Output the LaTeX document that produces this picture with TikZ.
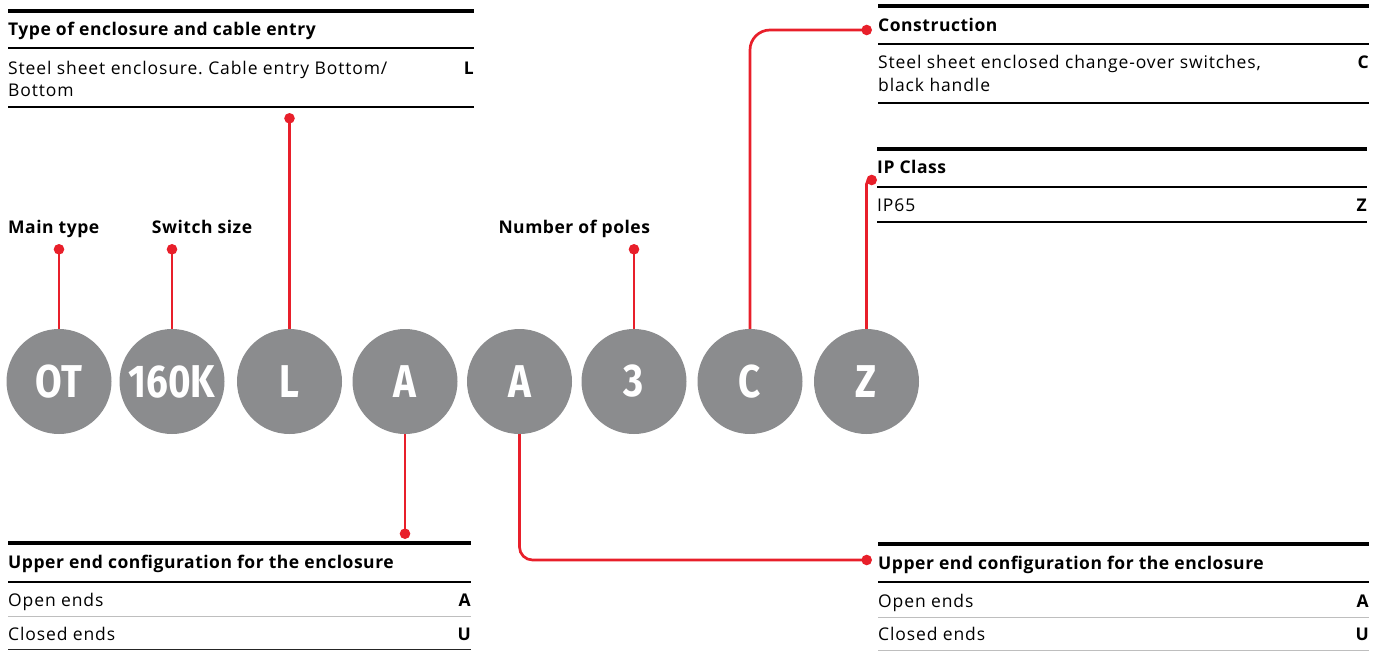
\documentclass[tikz,border=0pt]{standalone}
\usepackage{graphicx}
\usepackage{fontspec}
\setmainfont{Open Sans}[UprightFeatures={LetterSpace=5}, BoldFeatures={LetterSpace=3}]
\newfontfamily\circfont{Fira Sans}
\frenchspacing
\definecolor{abbred}{RGB}{232,31,42}
\definecolor{circgray}{RGB}{139,140,142}
\definecolor{rulegray}{RGB}{190,190,190}
\tikzset{
  thickrule/.style={line width=4.3pt, black},
  midrule/.style={line width=2.2pt, black},
  thinrule/.style={line width=1.3pt, rulegray},
  darkrule/.style={line width=1.3pt, black!85},
  redline/.style={abbred, line width=2.7pt},
  reddot/.style={circle, fill=abbred, inner sep=0pt, minimum size=10.6pt},
  codecirc/.style={circle, fill=circgray, minimum size=105pt, inner sep=0pt, text=white,
    font=\circfont\bfseries\fontsize{46}{46}\selectfont},
  body/.style={inner sep=0pt, anchor=base west, font=\fontsize{17.5}{21}\selectfont},
  code/.style={inner sep=0pt, anchor=base east, font=\bfseries\fontsize{17.5}{21}\selectfont},
  head/.style={inner sep=0pt, anchor=base west, font=\bfseries\fontsize{17.5}{21}\selectfont},
}
\newcommand{\cnd}[1]{\scalebox{0.84}[1]{#1}}
\begin{document}
\begin{tikzpicture}[x=1pt,y=-1pt]
\useasboundingbox (0,0) rectangle (1385,651);

% code circles
\node[codecirc] (c1) at (59,381.5) {\cnd{OT}};
\node[codecirc] (c2) at (172,381.5) {\cnd{160K}};
\node[codecirc] (c3) at (289.5,381.5) {\cnd{L}};
\node[codecirc] (c4) at (405,381.5) {\cnd{A}};
\node[codecirc] (c5) at (519.5,381.5) {\cnd{A}};
\node[codecirc] (c6) at (634,381.5) {\cnd{3}};
\node[codecirc] (c7) at (750,381.5) {\cnd{C}};
\node[codecirc] (c8) at (866.5,381.5) {\cnd{Z}};

% dots
\node[reddot] (d1) at (59,249.3) {};
\node[reddot] (d2) at (172,249.3) {};
\node[reddot] (d3) at (289.5,118.3) {};
\node[reddot] (d6) at (634,249.3) {};
\node[reddot] (d7) at (866.7,30) {};
\node[reddot] (d8) at (871.7,180) {};
\node[reddot] (d4) at (405,533.7) {};
\node[reddot] (d5) at (866.7,560) {};

% connectors
\draw[redline] (c1.north) -- (d1.center);
\draw[redline] (c2.north) -- (d2.center);
\draw[redline] (c3.north) -- (d3.center);
\draw[redline] (c6.north) -- (d6.center);
\draw[redline, rounded corners=20pt] (c7.north) |- (d7.center);
\draw[redline, rounded corners=4pt] (c8.north) |- (d8.center);
\draw[redline] (c4.south) -- (d4.center);
\draw[redline, rounded corners=13pt] (c5.south) |- (d5.center);

% labels
\node[head] (lmain) at (8,233.3) {Main type};
\node[head] (lsize) at (151.7,233.3) {Switch size};
\node[head] (lpoles) at (498.3,233.3) {Number of poles};

% table: type of enclosure
\draw[thickrule] (8,10.7) -- (474,10.7);
\node[head] (t1h) at (8,35) {Type of enclosure and cable entry};
\draw[midrule] (8,48.3) -- (474,48.3);
\node[body] (t1a) at (8,74) {Steel sheet enclosure. Cable entry Bottom/};
\node[body] (t1b) at (8,96.7) {Bottom};
\node[code] (t1c) at (474,74) {L};
\draw[midrule] (8,107.3) -- (474,107.3);

% table: construction
\draw[thickrule] (878,6) -- (1369,6);
\node[head] (t2h) at (878,31.7) {Construction};
\draw[midrule] (878,44) -- (1369,44);
\node[body] (t2a) at (878,68.3) {Steel sheet enclosed change-over switches,};
\node[body] (t2b) at (878,91.7) {black handle};
\node[code] (t2c) at (1369,68.3) {C};
\draw[midrule] (878,103.3) -- (1369,103.3);

% table: IP class
\draw[thickrule] (877,149) -- (1367,149);
\node[head] (t3h) at (877,173.3) {IP Class};
\draw[midrule] (877,187.3) -- (1367,187.3);
\node[body] (t3a) at (877,211.7) {IP65};
\node[code] (t3c) at (1367,211.7) {Z};
\draw[midrule] (877,221.7) -- (1367,221.7);

% table: upper end (left)
\draw[thickrule] (8,543.3) -- (471,543.3);
\node[head] (t4h) at (8,568.3) {Upper end configuration for the enclosure};
\draw[midrule] (8,582) -- (471,582);
\node[body] (t4a) at (8,606) {Open ends};
\node[code] (t4ac) at (471,606) {A};
\draw[thinrule] (8,616.7) -- (471,616.7);
\node[body] (t4b) at (8,640.7) {Closed ends};
\node[code] (t4bc) at (471,640.7) {U};
\draw[darkrule] (8,649.5) -- (471,649.5);

% table: upper end (right)
\draw[thickrule] (878,544.3) -- (1369,544.3);
\node[head] (t5h) at (878,569.3) {Upper end configuration for the enclosure};
\draw[midrule] (878,582.3) -- (1369,582.3);
\node[body] (t5a) at (878,607.3) {Open ends};
\node[code] (t5ac) at (1369,607.3) {A};
\draw[thinrule] (878,617.3) -- (1369,617.3);
\node[body] (t5b) at (878,640.7) {Closed ends};
\node[code] (t5bc) at (1369,640.7) {U};
\draw[thinrule] (878,650.2) -- (1369,650.2);
\end{tikzpicture}
\end{document}
